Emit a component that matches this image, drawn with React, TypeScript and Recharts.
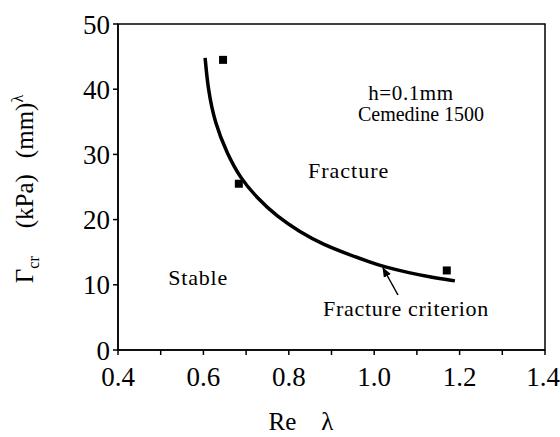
import React from 'react';
import { ComposedChart, Line, Scatter, XAxis, YAxis, ReferenceArea } from 'recharts';

// fracture criterion curve
const curveRe = [0.604, 0.611, 0.627, 0.655, 0.686, 0.726, 0.772, 0.826, 0.88, 0.943, 0.99, 1.021, 1.084, 1.131, 1.189];
const curveGamma = [44.8, 39.9, 34.8, 30.2, 26.4, 23.3, 20.5, 18.1, 16.2, 14.6, 13.5, 12.8, 11.8, 11.2, 10.6];

// measured points
const pointRe = [0.646, 0.683, 1.17];
const pointGamma = [44.5, 25.5, 12.2];

const xTicks = [0.4, 0.5, 0.6, 0.7, 0.8, 0.9, 1.0, 1.1, 1.2, 1.3, 1.4];
const yTicks = [0, 10, 20, 30, 40, 50];

const curve = curveRe.map((x, i) => ({ x, y: curveGamma[i] }));
const points = pointRe.map((x, i) => ({ x, y: pointGamma[i] }));

const font = '"Liberation Serif", "Times New Roman", serif';

const Square = (props: any) => (
  <rect x={props.cx - 4} y={props.cy - 4} width={8} height={8} fill="#000" />
);

export default function App() {
  return (
    <div style={{ position: 'absolute', left: 0, top: 0, width: 560, height: 437, background: '#fff' }}>
      <ComposedChart width={560} height={437} margin={{ top: 24, right: 15, bottom: 57, left: 58 }}>
        <defs>
          <marker id="arrow" markerWidth="10" markerHeight="8" refX="9" refY="4" orient="auto" markerUnits="userSpaceOnUse">
            <path d="M0,0 L10,4 L0,8 z" fill="#000" />
          </marker>
        </defs>
        <XAxis
          type="number"
          dataKey="x"
          domain={[0.4, 1.4]}
          ticks={xTicks}
          tickFormatter={(v: number) => (Math.round(v * 10) % 2 === 0 ? v.toFixed(1) : '')}
          tick={{ fill: '#000', fontSize: 27, fontFamily: font }}
          tickSize={5}
          tickMargin={12}
          stroke="#000"
          strokeWidth={1.5}
          allowDataOverflow
        />
        <YAxis
          type="number"
          domain={[0, 50]}
          ticks={yTicks}
          width={60}
          tick={{ fill: '#000', fontSize: 27, fontFamily: font }}
          tickSize={5}
          tickMargin={3}
          stroke="#000"
          strokeWidth={1.5}
        />
        <ReferenceArea x1={0.4} x2={1.4} y1={0} y2={50} fill="none" stroke="#000" strokeWidth={1.5} />
        <Line
          data={curve}
          dataKey="y"
          type="basis"
          stroke="#000"
          strokeWidth={3.5}
          dot={false}
          isAnimationActive={false}
        />
        <Scatter data={points} dataKey="y" shape={Square} isAnimationActive={false} />

        <g fontFamily={font} fill="#000">
          <text x={411} y={100} fontSize={21} textAnchor="middle" letterSpacing={0.6}>h=0.1mm</text>
          <text x={421} y={121} fontSize={20} textAnchor="middle">Cemedine 1500</text>
          <text x={308} y={178} fontSize={22} letterSpacing={1}>Fracture</text>
          <text x={228} y={285} fontSize={22} textAnchor="end" letterSpacing={0.8}>Stable</text>
          <text x={323} y={316} fontSize={22} letterSpacing={0.7}>Fracture criterion</text>
          <line x1={398} y1={295} x2={383} y2={268} stroke="#000" strokeWidth={1.5} markerEnd="url(#arrow)" />
          <text x={301} y={430} fontSize={25} textAnchor="middle">Re{'\u2003'}λ</text>
          <text transform="translate(33,189) rotate(-90)" fontSize={25} textAnchor="middle">
            Γ<tspan fontSize={16} dy={6}>cr</tspan>
            <tspan dy={-6} dx={28}>(kPa)</tspan>
            <tspan dx={16}>(mm)</tspan>
            <tspan fontSize={16} dy={-10}>λ</tspan>
          </text>
        </g>
      </ComposedChart>
    </div>
  );
}
